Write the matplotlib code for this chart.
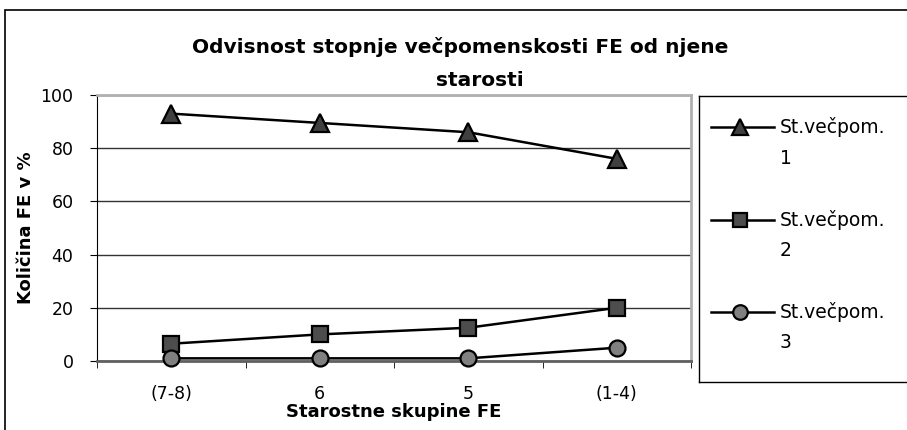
import matplotlib
matplotlib.use("Agg")
import matplotlib.pyplot as plt
from matplotlib.patches import Rectangle
from matplotlib.lines import Line2D

plt.rcParams['font.family'] = ['DejaVu Sans']

categories = ["(7-8)", "6", "5", "(1-4)"]
series_names = ["St.večpom.\n1", "St.večpom.\n2", "St.večpom.\n3"]
s1 = [93, 89.5, 86, 76]
s2 = [6.5, 10, 12.5, 20]
s3 = [1, 1, 1, 5]
yticks = [0, 20, 40, 60, 80, 100]

W, H = 907, 430
fig = plt.figure(figsize=(W / 100, H / 100), dpi=100)
fig.patch.set_facecolor('white')

# outer chart border
fig.patches.append(Rectangle((5 / W, -0.05), 1.0, (H - 10) / H + 0.05,
                             transform=fig.transFigure, fill=False,
                             edgecolor='black', linewidth=1.2))

ax = fig.add_axes([97 / W, (H - 361) / H, 594 / W, (361 - 95) / H])
x = list(range(len(categories)))
styles = [
    dict(marker='^', markersize=13, markerfacecolor='#404040'),
    dict(marker='s', markersize=11.5, markerfacecolor='#4d4d4d'),
    dict(marker='o', markersize=11.5, markerfacecolor='#808080'),
]
for data, st, name in zip([s1, s2, s3], styles, series_names):
    ax.plot(x, data, color='black', linewidth=1.8, markeredgecolor='black',
            markeredgewidth=1.6, label=name, clip_on=False, zorder=3, **st)

ax.set_xlim(-0.5, len(categories) - 0.5)
ax.set_ylim(0, 100)
ax.set_yticks(yticks)
ax.set_yticklabels([str(v) for v in yticks], fontsize=12.5)
ax.set_xticks(x)
ax.set_xticklabels(categories, fontsize=12.5)
ax.set_xticks([i - 0.5 for i in range(len(categories) + 1)], minor=True)
ax.tick_params(axis='x', which='major', length=0, pad=17)
ax.tick_params(axis='x', which='minor', length=5, direction='out')
ax.tick_params(axis='y', length=5, direction='out', pad=12)
ax.grid(axis='y', color='#333333', linewidth=1.0)
ax.set_axisbelow(True)
for side in ['top', 'right']:
    ax.spines[side].set_color('#b0b0b0')
    ax.spines[side].set_linewidth(2)
ax.spines['left'].set_color('black')
ax.spines['bottom'].set_color('#606060')
ax.spines['bottom'].set_linewidth(2)

ax.set_xlabel("Starostne skupine FE", fontsize=13, fontweight='bold', labelpad=0)
ax.set_ylabel("Količina FE v %", fontsize=13, fontweight='bold', labelpad=4)

fig.text(460 / W, 1 - 47 / H, "Odvisnost stopnje večpomenskosti FE od njene",
         ha='center', va='center', fontsize=14.5, fontweight='bold')
fig.text(480 / W, 1 - 80 / H, "starosti",
         ha='center', va='center', fontsize=14.5, fontweight='bold')

# legend box drawn in its own axes
lax = fig.add_axes([699 / W, (H - 382) / H, 0.3, (382 - 96) / H])
lax.set_xlim(699, 699 + 0.3 * W)
lax.set_ylim(382, 96)
lax.set_xticks([])
lax.set_yticks([])
for sp in lax.spines.values():
    sp.set_color('black')
    sp.set_linewidth(1.0)
leg_y = [127, 220, 312]
for yy, st, name in zip(leg_y, styles, series_names):
    lax.add_line(Line2D([711, 774], [yy, yy], color='black', linewidth=1.8))
    lax.plot([740], [yy], color='black', markeredgecolor='black',
             markeredgewidth=1.6, **{k: (v - 1 if k == 'markersize' else v) for k, v in st.items()})
    first, second = name.split("\n")
    lax.text(780, yy, first, fontsize=13.5, va='center', ha='left')
    lax.text(780, yy + 31, second, fontsize=13.5, va='center', ha='left')

fig.savefig("out.png", dpi=100, facecolor='white')
